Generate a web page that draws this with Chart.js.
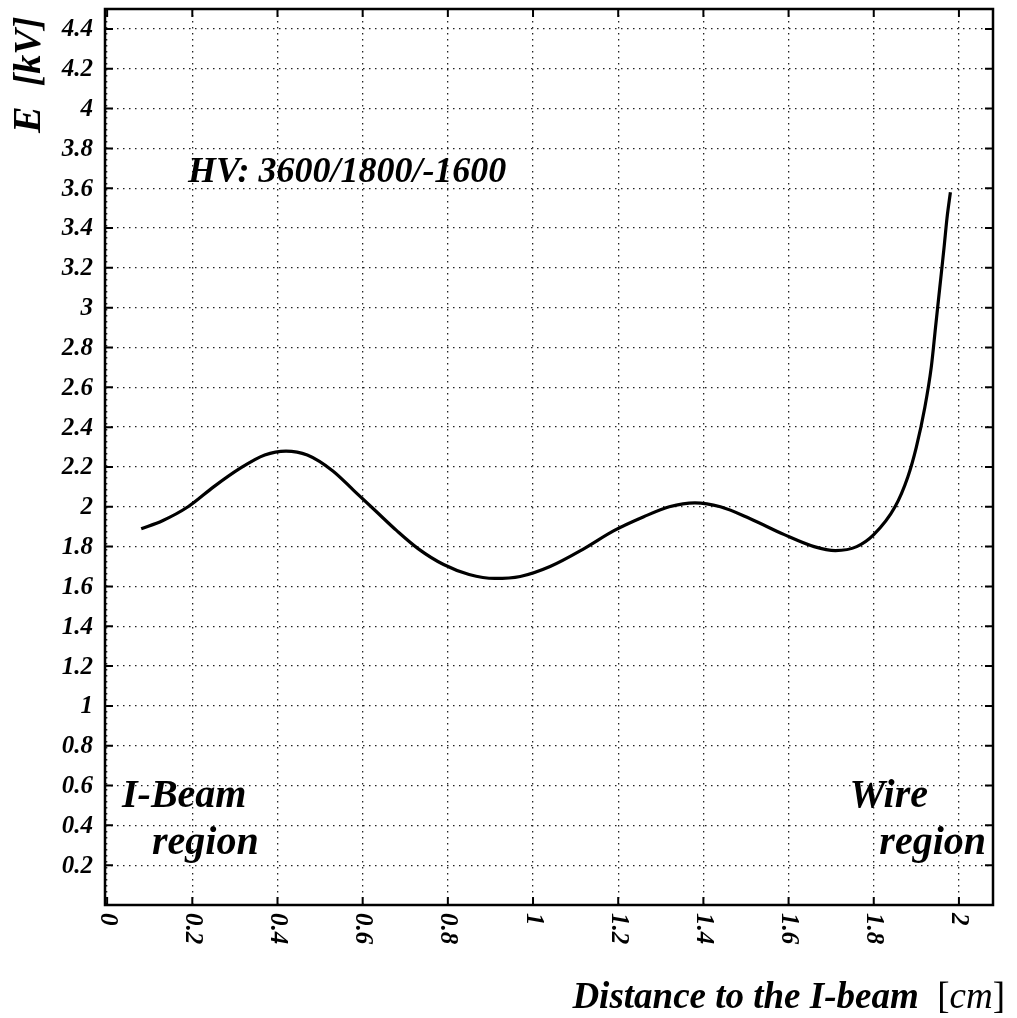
<!DOCTYPE html>
<html>
<head>
<meta charset="utf-8">
<script src="https://cdn.jsdelivr.net/npm/chart.js@4/dist/chart.umd.min.js"></script>
<style>
  body { margin: 0; background: #fff; }
  #wrap { width: 1017px; height: 1018px; }
</style>
</head>
<body>
<div id="wrap"><canvas id="chart" width="1017" height="1018"></canvas></div>
<script>
// Distance to the I-beam [cm] and field E [kV]
const distance = [0.08, 0.13, 0.19, 0.25, 0.31, 0.37, 0.42, 0.47, 0.53, 0.58,
    0.63, 0.68, 0.73, 0.79, 0.85, 0.91, 0.97, 1.04, 1.12, 1.19,
    1.26, 1.32, 1.38, 1.44, 1.51, 1.59, 1.66, 1.71, 1.76, 1.80,
    1.85, 1.88, 1.90, 1.92, 1.935, 1.945, 1.955, 1.965, 1.972, 1.98];
const field = [1.89, 1.93, 2.00, 2.10, 2.19, 2.26, 2.28, 2.26, 2.18, 2.08,
    1.98, 1.88, 1.79, 1.71, 1.66, 1.64, 1.65, 1.70, 1.79, 1.88,
    1.95, 2.00, 2.02, 2.00, 1.94, 1.86, 1.80, 1.78, 1.80, 1.86,
    2.00, 2.15, 2.30, 2.50, 2.70, 2.90, 3.10, 3.30, 3.45, 3.58];

const xTicks = [0, 0.2, 0.4, 0.6, 0.8, 1, 1.2, 1.4, 1.6, 1.8, 2];
const yTicks = [0.2, 0.4, 0.6, 0.8, 1, 1.2, 1.4, 1.6, 1.8, 2, 2.2, 2.4,
    2.6, 2.8, 3, 3.2, 3.4, 3.6, 3.8, 4, 4.2, 4.4];

const serif = '"Liberation Serif", "DejaVu Serif", serif';
const fmt = v => String(Math.round(v * 10) / 10);

// draws the frame, inward ticks, tick labels and the text notes
const decorations = {
    id: 'decorations',
    afterDraw(chart) {
        const { ctx, chartArea: a, scales: { x, y } } = chart;
        ctx.save();
        ctx.strokeStyle = '#000';
        ctx.fillStyle = '#000';

        // frame
        ctx.lineWidth = 2.5;
        ctx.strokeRect(a.left, a.top, a.right - a.left, a.bottom - a.top);

        // inward ticks
        ctx.lineWidth = 2;
        ctx.beginPath();
        yTicks.forEach(v => {
            const py = y.getPixelForValue(v);
            ctx.moveTo(a.left, py); ctx.lineTo(a.left + 8, py);
            ctx.moveTo(a.right, py); ctx.lineTo(a.right - 8, py);
        });
        xTicks.forEach(v => {
            const px = x.getPixelForValue(v);
            ctx.moveTo(px, a.bottom); ctx.lineTo(px, a.bottom - 8);
            ctx.moveTo(px, a.top); ctx.lineTo(px, a.top + 8);
        });
        ctx.stroke();

        ctx.font = 'italic bold 25px ' + serif;

        // y tick labels
        ctx.textAlign = 'right';
        ctx.textBaseline = 'middle';
        yTicks.forEach(v => {
            ctx.fillText(fmt(v), a.left - 12, y.getPixelForValue(v) + 1);
        });

        // x tick labels, turned clockwise
        ctx.textAlign = 'left';
        xTicks.forEach(v => {
            ctx.save();
            ctx.translate(x.getPixelForValue(v), a.bottom + 8);
            ctx.rotate(Math.PI / 2);
            ctx.fillText(fmt(v), 0, 0);
            ctx.restore();
        });

        ctx.textBaseline = 'alphabetic';

        // y axis title
        ctx.save();
        ctx.translate(40, 133);
        ctx.rotate(-Math.PI / 2);
        ctx.font = 'italic bold 40px ' + serif;
        ctx.fillText('E', 0, 0);
        const w = ctx.measureText('E  ').width;
        ctx.font = 'italic bold 38px ' + serif;
        ctx.fillText('[kV]', w, 0);
        ctx.restore();

        // x axis title
        ctx.font = 'italic bold 37px ' + serif;
        const main = 'Distance to the I-beam  ';
        const wMain = ctx.measureText(main).width;
        ctx.font = '37px ' + serif;
        const wB = ctx.measureText('[').width;
        ctx.font = 'italic 37px ' + serif;
        const wCm = ctx.measureText('cm').width;
        let sx = 1005 - (wMain + 2 * wB + wCm);
        ctx.font = 'italic bold 37px ' + serif;
        ctx.fillText(main, sx, 1008);
        sx += wMain;
        ctx.font = '37px ' + serif;
        ctx.fillText('[', sx, 1008);
        sx += wB;
        ctx.font = 'italic 37px ' + serif;
        ctx.fillText('cm', sx, 1008);
        sx += wCm;
        ctx.font = '37px ' + serif;
        ctx.fillText(']', sx, 1008);

        // notes inside the plot
        ctx.font = 'italic bold 36px ' + serif;
        ctx.fillText('HV: 3600/1800/-1600', x.getPixelForValue(0.19), y.getPixelForValue(3.63));

        ctx.font = 'italic bold 40px ' + serif;
        ctx.fillText('I-Beam', 122, 807);
        ctx.fillText('region', 152, 854);
        ctx.textAlign = 'right';
        ctx.fillText('Wire', 928, 807);
        ctx.fillText('region', 986, 854);

        ctx.restore();
    }
};

const dotted = {
    color: '#222',
    lineWidth: 1.3,
    drawTicks: false
};

new Chart(document.getElementById('chart'), {
    type: 'line',
    data: {
        datasets: [{
            data: distance.map((d, i) => ({ x: d, y: field[i] })),
            borderColor: '#000',
            borderWidth: 3.2,
            pointRadius: 0,
            fill: false,
            cubicInterpolationMode: 'monotone'
        }]
    },
    options: {
        responsive: false,
        animation: false,
        layout: { padding: { top: 9, right: 24, left: 0, bottom: 0 } },
        plugins: { legend: { display: false }, tooltip: { enabled: false } },
        scales: {
            x: {
                type: 'linear',
                min: -0.005,
                max: 2.08,
                afterBuildTicks: s => { s.ticks = xTicks.map(v => ({ value: v })); },
                afterFit: s => { s.height = 113; },
                ticks: { display: false },
                grid: dotted,
                border: { display: false, dash: [1.5, 4.5] }
            },
            y: {
                type: 'linear',
                min: 0,
                max: 4.5,
                afterBuildTicks: s => { s.ticks = yTicks.map(v => ({ value: v })); },
                afterFit: s => { s.width = 105; },
                ticks: { display: false },
                grid: dotted,
                border: { display: false, dash: [1.5, 4.5] }
            }
        }
    },
    plugins: [decorations]
});
</script>
</body>
</html>
